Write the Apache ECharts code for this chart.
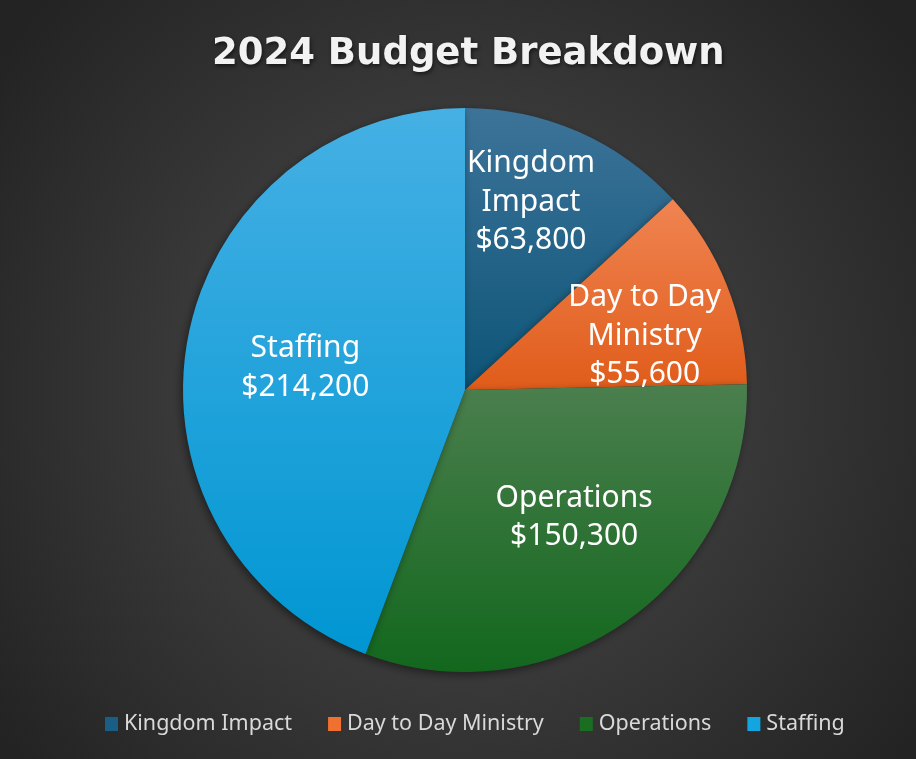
<!DOCTYPE html>
<html>
<head>
<meta charset="utf-8">
<title>2024 Budget Breakdown</title>
<script src="https://cdn.jsdelivr.net/npm/echarts@6/dist/echarts.min.js"></script>
<style>
  html, body { margin: 0; padding: 0; background: #fff; }
  #chart { width: 916px; height: 759px; }
</style>
</head>
<body>
<div id="chart"></div>
<script>
// data
var categories = ['Kingdom Impact', 'Day to Day Ministry', 'Operations', 'Staffing'];
var amounts = [63800, 55600, 150300, 214200];
var labelNames = ['Kingdom\nImpact', 'Day to Day\nMinistry', 'Operations', 'Staffing'];

// colours: top / bottom of each slice gradient
var topColors = ['#3d7399', '#f08452', '#4b7f4e', '#45b0e4'];
var bottomColors = ['#0d5578', '#e05c1a', '#12671d', '#0096d2'];
var legendColors = ['#1a5e86', '#f07030', '#1a6e22', '#12a5e0'];
// nudge for the inside labels (Excel puts them further out)
var labelShift = [[8, -56], [46, 0], [26, 10], [-18, 4]];

var chart = echarts.init(document.getElementById('chart'));

var pieData = categories.map(function (name, i) {
  return {
    name: name,
    value: amounts[i],
    itemStyle: {
      color: new echarts.graphic.LinearGradient(0, 0, 0, 1, [
        { offset: 0, color: topColors[i] },
        { offset: 1, color: bottomColors[i] }
      ])
    }
  };
});

var option = {
  backgroundColor: {
    type: 'radial', x: 0.5, y: 0.52, r: 0.75,
    colorStops: [
      { offset: 0, color: '#4e4e4e' },
      { offset: 1, color: '#232323' }
    ]
  },
  title: {
    text: '2024 Budget Breakdown',
    left: 207,
    top: 31,
    textStyle: {
      color: '#f2f2f2',
      fontFamily: 'DejaVu Sans',
      fontWeight: 'bold',
      fontSize: 37,
      textShadowColor: 'rgba(0,0,0,0.6)',
      textShadowBlur: 4,
      textShadowOffsetX: 1,
      textShadowOffsetY: 2
    }
  },
  legend: {
    bottom: 19,
    left: 100,
    icon: 'rect',
    itemWidth: 13,
    itemHeight: 14,
    itemGap: 36,
    data: categories.map(function (name, i) {
      return { name: name, itemStyle: { color: legendColors[i] } };
    }),
    textStyle: { color: '#d9d9d9', fontSize: 21.5, fontFamily: 'Noto Sans', padding: [0, 0, 0, 1] }
  },
  series: [{
    type: 'pie',
    center: [465, 390],
    radius: [0, 282],
    startAngle: 90,
    clockwise: true,
    silent: true,
    data: pieData,
    itemStyle: {
      borderWidth: 0,
      shadowColor: 'rgba(0,0,0,0.45)',
      shadowBlur: 8,
      shadowOffsetX: -2,
      shadowOffsetY: 3
    },
    label: {
      show: true,
      position: 'inside',
      color: '#ffffff',
      fontSize: 30,
      fontFamily: 'Noto Sans',
      lineHeight: 38.5,
      formatter: function (p) {
        return labelNames[p.dataIndex] + '\n$' + p.value.toLocaleString('en-US');
      }
    },
    labelLayout: function (p) {
      return { dx: labelShift[p.dataIndex][0], dy: labelShift[p.dataIndex][1] };
    },
    labelLine: { show: false }
  }]
};

chart.setOption(option);
</script>
</body>
</html>
